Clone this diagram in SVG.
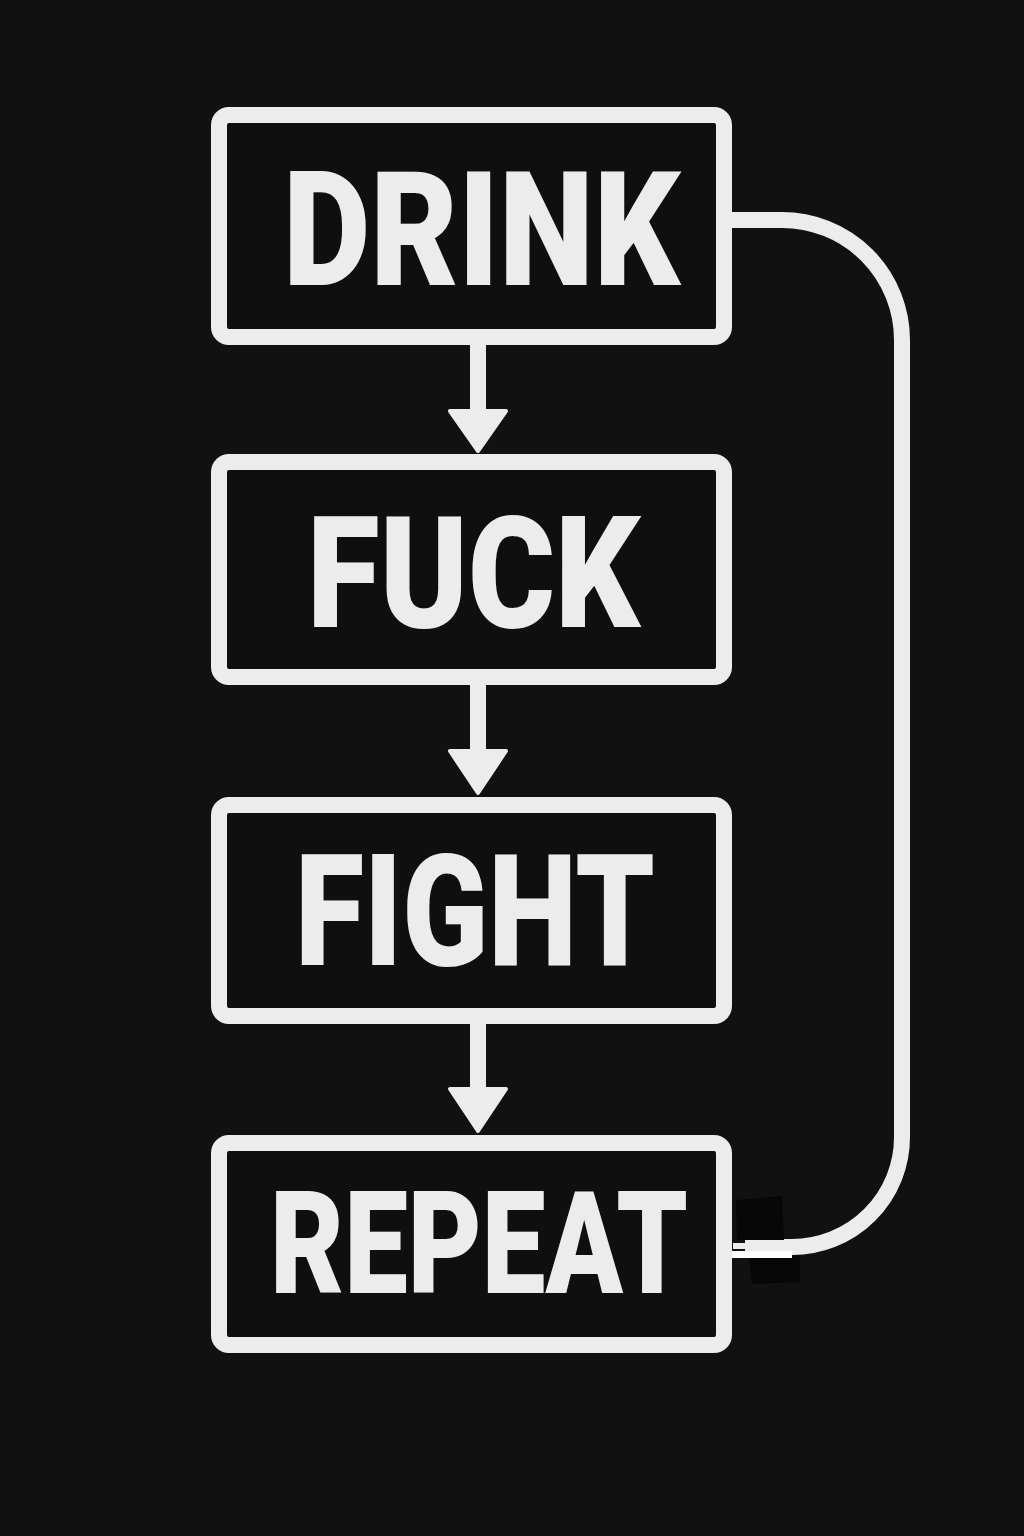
<svg xmlns="http://www.w3.org/2000/svg" width="1024" height="1536" viewBox="0 0 1024 1536">
  <style>
    .box { fill: #0f0f0f; stroke: #ececec; stroke-width: 16; }
    .lbl { fill: #ececec; font-family: Roboto, "Liberation Sans", "DejaVu Sans", sans-serif; font-weight: 900; }
    .line { fill: none; stroke: #ececec; stroke-width: 16; }
    .head { fill: #ececec; stroke: #ececec; stroke-width: 4; stroke-linejoin: round; }
  </style>
  <rect x="0" y="0" width="1024" height="1536" fill="#111111"/>

  <g id="connectors">
    <line class="line" x1="478" y1="345" x2="478" y2="412"/>
    <polygon class="head" points="450,411 506,411 478,451"/>
    <line class="line" x1="478" y1="685" x2="478" y2="752"/>
    <polygon class="head" points="450,751 506,751 478,793"/>
    <line class="line" x1="478" y1="1024" x2="478" y2="1090"/>
    <polygon class="head" points="450,1089 506,1089 478,1131"/>
    <path class="line" d="M 732 220 L 782 220 A 120 120 0 0 1 902 340 L 902 1137 A 110 110 0 0 1 792 1247 L 745 1247"/>
    <polygon points="736,1200 782,1196 784,1240 737,1240" fill="#070707"/>
    <polygon points="749,1258 800,1256 800,1282 752,1284" fill="#070707"/>
    <rect x="733" y="1243" width="29" height="6" fill="#ececec"/>
    <rect x="726" y="1251" width="66" height="7" fill="#ffffff"/>
  </g>

  <g id="node-drink">
    <rect class="box" x="219" y="115" width="505" height="222" rx="10"/>
    <text class="lbl" x="283" y="285" font-size="159" textLength="397" lengthAdjust="spacingAndGlyphs">DRINK</text>
  </g>
  <g id="node-fuck">
    <rect class="box" x="219" y="462" width="505" height="215" rx="10"/>
    <text class="lbl" x="307" y="627" font-size="156" textLength="333" lengthAdjust="spacingAndGlyphs">FUCK</text>
  </g>
  <g id="node-fight">
    <rect class="box" x="219" y="805" width="505" height="211" rx="10"/>
    <text class="lbl" x="295" y="965" font-size="155" textLength="360" lengthAdjust="spacingAndGlyphs">FIGHT</text>
  </g>
  <g id="node-repeat">
    <rect class="box" x="219" y="1143" width="505" height="202" rx="10"/>
    <text class="lbl" x="270" y="1293" font-size="143" textLength="418" lengthAdjust="spacingAndGlyphs">REPEAT</text>
  </g>
</svg>
